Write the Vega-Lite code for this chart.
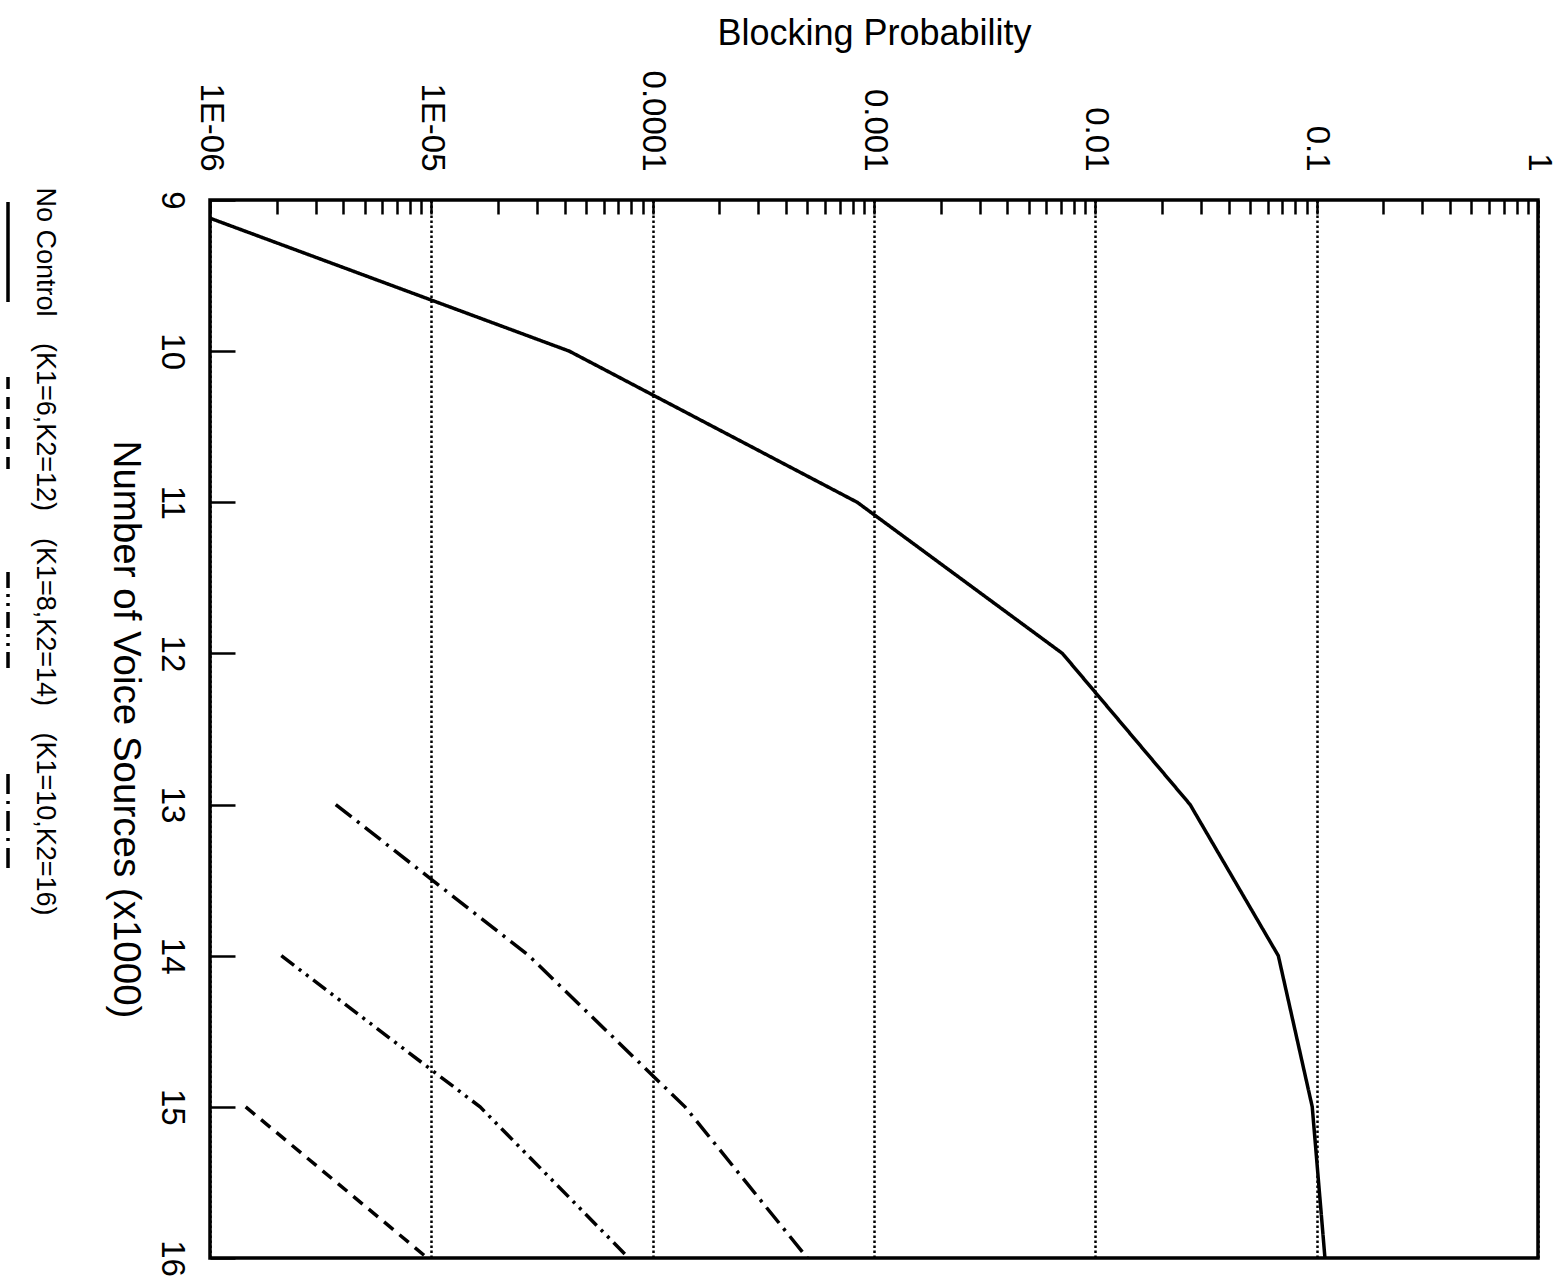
{
  "$schema": "https://vega.github.io/schema/vega-lite/v6.json",
  "width": 1328,
  "height": 1058,
  "autosize": {"type": "none"},
  "padding": {"left": 210, "top": 200, "right": 24, "bottom": 24},
  "background": "white",
  "data": {
    "values": [
      {"series": "No Control", "sources": 9, "probability": 6.0e-7},
      {"series": "No Control", "sources": 10, "probability": 4.2e-5},
      {"series": "No Control", "sources": 11, "probability": 8.4e-4},
      {"series": "No Control", "sources": 12, "probability": 7.1e-3},
      {"series": "No Control", "sources": 13, "probability": 0.0268},
      {"series": "No Control", "sources": 14, "probability": 0.0671},
      {"series": "No Control", "sources": 15, "probability": 0.0955},
      {"series": "No Control", "sources": 16, "probability": 0.109},
      {"series": "(K1=6,K2=12)", "sources": 15, "probability": 1.45e-6},
      {"series": "(K1=6,K2=12)", "sources": 16, "probability": 9.6e-6},
      {"series": "(K1=8,K2=14)", "sources": 14, "probability": 2.1e-6},
      {"series": "(K1=8,K2=14)", "sources": 15, "probability": 1.66e-5},
      {"series": "(K1=8,K2=14)", "sources": 16, "probability": 7.8e-5},
      {"series": "(K1=10,K2=16)", "sources": 13, "probability": 3.7e-6},
      {"series": "(K1=10,K2=16)", "sources": 14, "probability": 2.76e-5},
      {"series": "(K1=10,K2=16)", "sources": 15, "probability": 1.4e-4},
      {"series": "(K1=10,K2=16)", "sources": 16, "probability": 5.0e-4}
    ]
  },
  "mark": {"type": "line", "stroke": "black", "strokeWidth": 3.5, "clip": true, "strokeCap": "butt"},
  "encoding": {
    "x": {
      "field": "probability",
      "type": "quantitative",
      "scale": {"type": "log", "domain": [1e-6, 1], "nice": false},
      "axis": {
        "orient": "top",
        "title": "Blocking Probability",
        "values": [1e-6, 2e-6, 3e-6, 4e-6, 5e-6, 6e-6, 7e-6, 8e-6, 9e-6,
                   1e-5, 2e-5, 3e-5, 4e-5, 5e-5, 6e-5, 7e-5, 8e-5, 9e-5,
                   1e-4, 2e-4, 3e-4, 4e-4, 5e-4, 6e-4, 7e-4, 8e-4, 9e-4,
                   0.001, 0.002, 0.003, 0.004, 0.005, 0.006, 0.007, 0.008, 0.009,
                   0.01, 0.02, 0.03, 0.04, 0.05, 0.06, 0.07, 0.08, 0.09,
                   0.1, 0.2, 0.3, 0.4, 0.5, 0.6, 0.7, 0.8, 0.9, 1],
        "labelExpr": "abs(log(datum.value)/LN10 - round(log(datum.value)/LN10)) < 0.001 ? (datum.value < 0.000005 ? '1E-06' : (datum.value < 0.00005 ? '1E-05' : format(datum.value, '~g'))) : ''",
        "labelAngle": 90,
        "labelAlign": "right",
        "labelBaseline": "middle",
        "labelPadding": 43,
        "labelFlush": false,
        "labelOverlap": false,
        "labelFontSize": 33,
        "tickSize": -14,
        "tickWidth": 2.5,
        "tickColor": "black",
        "domain": false,
        "grid": true,
        "gridColor": "black",
        "gridDash": [2.5, 2.5],
        "gridWidth": 2.5,
        "gridOpacity": {"condition": {"test": "abs(log(datum.value)/LN10 - round(log(datum.value)/LN10)) < 0.001", "value": 1}, "value": 0},
        "titleFontSize": 36,
        "titlePadding": 18
      }
    },
    "y": {
      "field": "sources",
      "type": "quantitative",
      "scale": {"domain": [9, 16], "reverse": true, "nice": false, "zero": false},
      "axis": {
        "orient": "left",
        "title": "Number of Voice Sources (x1000)",
        "values": [9, 10, 11, 12, 13, 14, 15, 16],
        "labelAngle": 90,
        "labelAlign": "center",
        "labelBaseline": "top",
        "labelPadding": 48,
        "labelFlush": false,
        "labelOverlap": false,
        "labelFontSize": 33,
        "tickSize": -25,
        "tickWidth": 2.5,
        "tickColor": "black",
        "domain": false,
        "grid": false,
        "titleAngle": 90,
        "titleBaseline": "top",
        "titleFontSize": 38.5,
        "titlePadding": 11
      }
    },
    "strokeDash": {
      "field": "series",
      "type": "nominal",
      "scale": {
        "domain": ["No Control", "(K1=6,K2=12)", "(K1=8,K2=14)", "(K1=10,K2=16)"],
        "range": [[1, 0], [12, 8], [16, 6, 3, 6, 3, 6], [20, 7, 3, 7]]
      },
      "legend": {
        "orient": "left",
        "title": null,
        "offset": 45,
        "symbolType": "M0,-1V1",
        "symbolSize": 10000,
        "symbolStrokeWidth": 3.5,
        "symbolStrokeColor": "black",
        "labelFontSize": 27,
        "labelLimit": 1000,
        "labelOffset": -15,
        "rowPadding": 25,
        "encode": {
          "labels": {"update": {"angle": {"value": 90}, "align": {"value": "center"}, "baseline": {"value": "middle"}}}
        }
      }
    },
    "order": {"field": "sources", "type": "quantitative"}
  },
  "config": {
    "font": "Liberation Sans",
    "view": {"stroke": "black", "strokeWidth": 3.5},
    "axis": {"labelColor": "black", "titleColor": "black", "titleFontWeight": "normal", "labelFont": "Liberation Sans", "titleFont": "Liberation Sans"},
    "legend": {"labelColor": "black", "labelFont": "Liberation Sans"}
  }
}
